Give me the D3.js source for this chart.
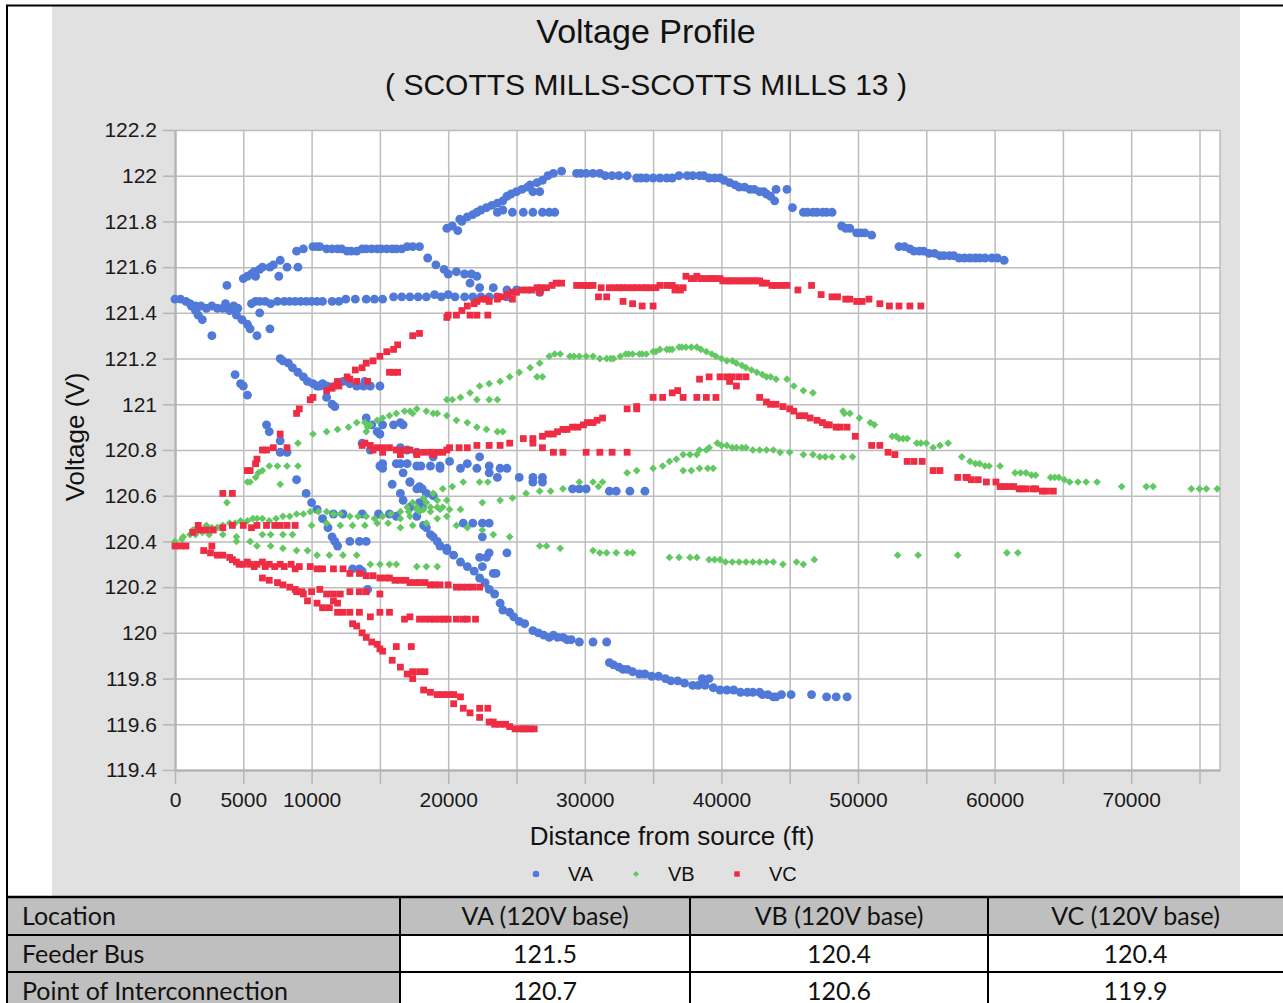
<!DOCTYPE html>
<html>
<head>
<meta charset="utf-8">
<script src="https://cdn.jsdelivr.net/npm/d3@7"></script>
<style>
  body { margin: 0; background: #fff; }
  svg { display: block; }
</style>
</head>
<body>
<div id="chart"></div>
<script>
// ---- chart data: [distance (ft), voltage (V)] ----
const vaPoints = [
  // flat band ~121.45
  [0,121.46],[400,121.46],[800,121.45],[1100,121.44],[1500,121.43],[1900,121.43],[2300,121.42],[2700,121.43],[3100,121.42],[3500,121.42],[3900,121.42],[4300,121.43],[4600,121.42],
  [5600,121.44],[5900,121.45],[6200,121.45],[6600,121.45],[7000,121.44],[7500,121.45],[8000,121.45],[8400,121.45],[8800,121.45],[9200,121.45],[9600,121.45],[10000,121.45],
  [10400,121.45],[10800,121.45],[11500,121.45],[12000,121.45],[12500,121.46],[13200,121.46],[14000,121.46],[14600,121.46],[15200,121.46],[16000,121.47],[16600,121.47],
  [17200,121.47],[17800,121.47],[18400,121.47],[19000,121.48],[19500,121.47],[20000,121.48],[20500,121.47],[21200,121.47],[21800,121.47],[22400,121.47],[23000,121.47],
  [23600,121.47],[24300,121.47],[26700,121.49],
  // early dips
  [1200,121.43],[1500,121.41],[1700,121.39],[2000,121.37],[2700,121.30],
  [3700,121.44],[4000,121.41],[4400,121.42],[4500,121.39],[4900,121.37],[5300,121.35],[5500,121.33],[6000,121.30],[6200,121.40],[6950,121.33],
  // rising to 121.69 and back down
  [3800,121.52],[5000,121.55],[5300,121.56],[5600,121.57],[5800,121.58],[5900,121.56],[6200,121.59],[6400,121.60],[6950,121.60],[7200,121.61],[7600,121.56],[7700,121.63],
  [8200,121.60],[8900,121.67],[9000,121.60],[9400,121.68],[10100,121.69],[10400,121.69],[10600,121.69],[11100,121.68],[11500,121.68],[11900,121.68],[12200,121.68],
  [12600,121.67],[12900,121.67],[13300,121.67],[13700,121.68],[14000,121.68],[14400,121.68],[14800,121.68],[15100,121.68],[15500,121.68],[15900,121.68],[16200,121.68],
  [16600,121.68],[17000,121.69],[17400,121.69],[17900,121.69],[18500,121.64],[19100,121.61],[19700,121.59],[20000,121.57],[20600,121.58],
  [21200,121.57],[21700,121.57],[22100,121.56],[21600,121.53],[22300,121.51],[23300,121.51],[24300,121.50],[25000,121.50],
  // 121.2 -> 121.08 curve
  [7700,121.20],[7900,121.19],[8300,121.18],[8600,121.16],[9000,121.14],[9400,121.12],[9700,121.10],[10100,121.09],[10400,121.08],[10600,121.08],[10800,121.09],
  [11100,121.08],[11900,121.09],[12300,121.10],[12800,121.09],[13300,121.08],[13800,121.08],[13900,121.10],[14300,121.08],[15000,121.08],
  [11100,121.03],[11500,121.00],[11700,120.99],
  [4400,121.13],[4800,121.09],[5000,121.08],[5300,121.04],
  // upper rise to 122
  [19900,121.77],[20300,121.78],[20700,121.76],[20850,121.81],[21000,121.80],[21400,121.82],[21800,121.83],[22100,121.84],[22400,121.85],[22800,121.86],[23200,121.87],
  [23600,121.88],[23600,121.84],[24000,121.89],[24000,121.85],[24300,121.91],[24600,121.92],[25000,121.93],[25400,121.94],[25800,121.95],[26000,121.96],[26200,121.93],
  [26500,121.97],[26700,121.93],[26900,121.98],[27300,122.00],[27700,122.01],[28300,122.02],
  [24700,121.84],[25500,121.84],[26200,121.84],[26900,121.84],[27400,121.84],[27800,121.84],
  // top plateau and slow decline
  [29400,122.01],[29700,122.01],[30100,122.01],[30600,122.01],[31100,122.01],[31500,122.00],[32000,122.00],[32500,122.00],[33100,122.00],[33800,121.99],[34100,121.99],
  [34500,121.99],[35000,121.99],[35500,121.99],[36000,121.99],[36400,121.99],[36900,122.00],[37500,122.00],[37900,122.00],[38400,122.00],[38700,122.00],[39100,121.99],
  [39500,121.99],[39900,121.99],[40200,121.98],[40600,121.97],[41000,121.96],[41300,121.95],[41700,121.95],[42100,121.94],[42400,121.94],[42800,121.93],[43100,121.93],
  [43300,121.92],[43600,121.91],[43900,121.89],[44000,121.94],[44800,121.94],
  [45200,121.86],[46000,121.84],[46300,121.84],[46700,121.84],[47000,121.84],[47400,121.84],[47700,121.84],[48100,121.84],[48800,121.78],[49100,121.77],[49400,121.77],
  [49900,121.75],[50200,121.75],[50500,121.75],[51000,121.74],
  [53000,121.69],[53400,121.69],[53800,121.68],[54100,121.67],[54500,121.67],[54800,121.67],[55200,121.66],[55600,121.66],[56000,121.65],[56300,121.65],[56700,121.65],
  [57000,121.65],[57400,121.64],[57800,121.64],[58200,121.64],[58600,121.64],[58900,121.64],[59300,121.64],[59800,121.64],[60200,121.64],[60700,121.63],
  // left middle group
  [6700,120.91],[6900,120.88],[7700,120.84],[7700,120.79],[8200,120.79],[8900,120.67],[9600,120.61],[10000,120.57],[10400,120.54],[10800,120.50],[11200,120.46],
  [11500,120.42],[11700,120.40],[11900,120.38],[12800,120.40],[13500,120.40],[14000,120.40],[13000,120.28],[13500,120.28],[13700,120.27],[14100,120.19],
  [11600,120.52],[12300,120.52],[13700,120.52],[14900,120.52],[15700,120.52],[16200,120.51],
  // cluster 120.95 - 120.6
  [14000,120.94],[14400,120.91],[14800,120.88],[15000,120.87],[15200,120.91],[16000,120.91],[16500,120.92],[16700,120.91],
  [13700,120.83],[14300,120.80],[15000,120.73],[15200,120.74],[16200,120.74],[17000,120.74],[17700,120.73],[18700,120.73],[19400,120.73],[15200,120.72],
  [15900,120.65],[16500,120.61],[17200,120.66],[17700,120.63],[17900,120.64],[18400,120.61],[18900,120.60],[17900,120.57],[18100,120.55],
  [16500,120.81],[17000,120.80],[17700,120.79],[18900,120.77],[20100,120.75],[21400,120.74],[22300,120.77],[23000,120.73],[23800,120.72],[24300,120.72],
  [16500,120.74],[18000,120.73],[19400,120.72],[20900,120.72],[22100,120.72],[23000,120.70],[23600,120.68],
  [16700,120.70],[17200,120.66],[18100,120.63],
  [25200,120.68],[26200,120.68],[26900,120.68],[26200,120.66],[26900,120.66],[29100,120.63],[29600,120.63],[30100,120.63],[31800,120.62],[32300,120.62],[33300,120.62],[34400,120.62],
  [21100,120.48],[21800,120.48],[22500,120.48],[23000,120.48],[22500,120.42],[23000,120.35],[24300,120.35],[22300,120.33],[22800,120.33],[23300,120.26],[23500,120.26],[22500,120.29],
  // long descending curve
  [16700,120.58],[17200,120.55],[17700,120.51],[18200,120.47],[18400,120.46],[18700,120.43],[18900,120.42],[19200,120.40],[19400,120.38],[19900,120.37],[19900,120.36],
  [20400,120.34],[20900,120.31],[21400,120.29],[21900,120.27],[22300,120.24],[22700,120.22],[23000,120.19],[23400,120.17],[23800,120.13],[24000,120.10],[24500,120.09],
  [24800,120.07],[25200,120.05],[25600,120.04],[26200,120.01],[26600,120.00],[27000,119.99],[27400,119.98],[27700,119.99],[28000,119.98],[28400,119.98],[28700,119.97],
  [29000,119.97],[29600,119.96],[30600,119.96],[31600,119.96],
  [31800,119.87],[32100,119.86],[32500,119.85],[32800,119.84],[33100,119.84],[33500,119.83],[34000,119.82],[34400,119.82],[34900,119.81],[35400,119.81],[35900,119.80],
  [36300,119.79],[36800,119.79],[37300,119.78],[37900,119.77],[38300,119.77],[38600,119.80],[38800,119.77],[39100,119.80],[39400,119.76],[39900,119.75],[40400,119.75],
  [40900,119.75],[41400,119.74],[41900,119.74],[42300,119.74],[42800,119.74],[43000,119.73],[43400,119.73],[43800,119.72],[44000,119.72],[44400,119.73],[45100,119.73],
  [46600,119.73],[47700,119.72],[48400,119.72],[49200,119.72]
];

const vbPoints = [
  // base line rising from 120.40
  [0,120.40],[500,120.41],[600,120.42],[1100,120.43],[1300,120.45],[1600,120.46],[2000,120.44],[2300,120.47],[2700,120.46],[3100,120.46],[3500,120.47],[4000,120.48],
  [4400,120.48],[4800,120.49],[5300,120.49],[5700,120.50],[6000,120.50],[6400,120.50],[6900,120.49],[7400,120.50],[7900,120.51],[8400,120.51],[8900,120.52],[9400,120.52],
  [9900,120.53],[10500,120.53],[11100,120.53],[11600,120.52],[12100,120.52],[12800,120.51],[13400,120.51],[14000,120.51],[14600,120.50],[15200,120.51],[15800,120.52],
  [16500,120.53],[17100,120.53],[17700,120.54],[18200,120.54],[18700,120.55],[19200,120.55],[19600,120.55],
  [17400,120.57],[18200,120.59],[18900,120.61],[19600,120.63],[20300,120.64],[21100,120.66],[22300,120.66],[22900,120.66],
  [22500,120.57],[23800,120.58],[24700,120.59],[25700,120.61],[26700,120.62],[27500,120.62],[28400,120.63],[29600,120.66],[30600,120.66],[31000,120.64],[31300,120.66],
  // upper hump
  [19900,121.02],[20300,121.02],[20900,121.03],[21600,121.05],[22100,121.02],[22300,121.08],[23000,121.09],[23000,121.02],[23600,121.02],[23800,121.10],[24500,121.12],
  [25200,121.14],[26000,121.16],[26500,121.12],[26700,121.18],[26900,121.12],[27400,121.21],[27800,121.22],[28200,121.22],[28900,121.21],[29200,121.21],[29600,121.21],
  [30100,121.21],[30600,121.21],[31100,121.20],[31600,121.20],[31900,121.20],[32100,121.20],[32600,121.21],[33000,121.22],[33200,121.22],[33500,121.22],[34000,121.22],
  [34200,121.22],[34500,121.22],[35000,121.23],[35200,121.23],[35500,121.24],[36000,121.24],[36200,121.24],[36400,121.24],[36900,121.25],[37100,121.25],[37400,121.25],
  [37800,121.25],[38200,121.25],[38500,121.24],[38900,121.23],[39300,121.22],[39600,121.21],[40000,121.20],[40400,121.19],[40800,121.19],[41100,121.18],[41500,121.17],
  [41800,121.16],[42200,121.15],[42600,121.14],[43000,121.13],[43300,121.12],[43600,121.12],[44000,121.11],[44800,121.11],[45300,121.08],[46000,121.06],[46700,121.05],
  [48900,120.97],[49000,120.96],[49400,120.96],[50100,120.94],[50900,120.92],[51200,120.91],[52500,120.86],[52800,120.86],[53000,120.85],[53300,120.85],[53600,120.85],
  [54300,120.83],[54600,120.83],[55000,120.83],[55500,120.81],[56000,120.82],[56600,120.83],
  [57600,120.77],[58200,120.75],[58600,120.74],[58900,120.74],[59300,120.73],[59600,120.73],[60400,120.73],[61500,120.70],[61900,120.70],[62300,120.70],[62700,120.69],
  [63000,120.69],[64100,120.68],[64400,120.68],[64700,120.68],[65100,120.67],[65500,120.66],
  [66100,120.66],[66700,120.66],[67500,120.66],[69300,120.64],[71100,120.64],[71600,120.64],[74400,120.63],[75000,120.63],[75500,120.63],[76300,120.63],
  // second wave peaking ~120.83
  [33100,120.70],[33800,120.71],[35000,120.72],[35700,120.73],[36200,120.75],[36700,120.76],[37200,120.78],[37700,120.78],[38200,120.78],[38400,120.80],[38900,120.80],
  [39100,120.81],[39700,120.83],[40000,120.82],[40400,120.82],[40800,120.81],[41100,120.81],[41500,120.81],[41800,120.81],[42300,120.80],[42800,120.80],[43300,120.80],
  [43800,120.80],[44300,120.79],[45000,120.79],[46000,120.78],[46700,120.78],[47200,120.77],[47600,120.77],[48100,120.77],[48900,120.77],[49600,120.77],
  [37200,120.71],[37800,120.71],[38400,120.72],[39000,120.72],[39400,120.72],
  // 120.45 - 120.55 cluster and flat tail
  [16500,120.50],[17200,120.51],[17900,120.53],[18700,120.53],[19400,120.54],[20100,120.54],[20900,120.54],[17000,120.55],[17700,120.55],[18400,120.57],[19200,120.58],
  [19900,120.58],[16500,120.46],[17400,120.47],[18400,120.48],[19200,120.50],[19900,120.51],[20600,120.47],[21400,120.46],[22500,120.45],[23300,120.43],[24500,120.42],
  [26700,120.38],[27200,120.38],[28200,120.37],[30600,120.36],[31100,120.35],[31600,120.35],[32300,120.35],[33100,120.35],[33500,120.35],[36200,120.33],[36900,120.33],
  [37700,120.33],[38200,120.33],[39100,120.32],[39500,120.32],[39900,120.32],[40300,120.31],[40800,120.31],[41300,120.31],[41800,120.31],[42300,120.31],[42800,120.31],
  [43300,120.31],[43800,120.31],[44500,120.30],[45500,120.31],[46000,120.30],
  [46800,120.32],[52900,120.34],[54400,120.34],[57300,120.34],[60900,120.35],[61700,120.35],
  // lower left rows
  [4500,120.40],[5500,120.40],[6000,120.38],[7000,120.38],[7900,120.37],[8900,120.36],[9700,120.36],[10400,120.34],[11300,120.34],[12300,120.34],[13300,120.34],
  [14300,120.30],[15000,120.30],[15700,120.30],[16200,120.30],[17700,120.29],[18400,120.29],[19200,120.29],
  [1500,120.43],[2500,120.43],[3500,120.43],[4500,120.42],[6400,120.43],[7000,120.43],[7900,120.43],[8600,120.43],
  [10000,120.47],[11100,120.48],[12100,120.47],[13000,120.47],[13900,120.47],[14800,120.48],[15600,120.48],
  // upper left rise
  [3800,120.57],[5300,120.66],[5500,120.66],[5900,120.68],[6100,120.70],[6400,120.71],[6900,120.73],[7500,120.73],[7700,120.65],[8200,120.73],[9000,120.73],[9000,120.83],
  [10100,120.87],[11100,120.88],[11900,120.89],[12700,120.90],[13300,120.92],[13900,120.92],[14000,120.88],[14100,120.90],[14300,120.91],[14800,120.93],[15200,120.94],
  [15700,120.95],[16200,120.96],[16800,120.97],[17200,120.97],[17400,120.96],[17700,120.98],[18400,120.97],[18900,120.96],[19200,120.96],[19900,120.95],[20600,120.93],
  [21400,120.92],[22100,120.90],[22800,120.89],[23600,120.88],[24000,120.88]
];

const vcPoints = [
  // lower falling band
  [0,120.38],[400,120.38],[800,120.38],[2100,120.36],[2600,120.35],[2700,120.38],[3100,120.34],[3500,120.34],[4000,120.33],[4200,120.32],[4500,120.31],[4700,120.30],
  [5000,120.30],[5300,120.31],[5500,120.30],[5800,120.29],[6000,120.30],[6400,120.31],[6600,120.29],[6900,120.30],[7300,120.29],[7700,120.30],[8000,120.29],[8500,120.30],
  [8800,120.28],[9100,120.29],[9900,120.29],[10400,120.28],[10800,120.28],[11600,120.28],[12300,120.28],[12800,120.26],[13500,120.26],[14000,120.25],[14500,120.25],
  [15000,120.24],[15400,120.24],[15700,120.24],[16100,120.23],[16500,120.23],[16900,120.23],[17200,120.22],[17600,120.22],[17900,120.22],[18300,120.22],[18700,120.21],
  [19000,120.21],[19400,120.21],[20000,120.21],[20600,120.20],[21000,120.20],[21400,120.20],[21800,120.20],[22300,120.20],
  // lower branch ~120.06
  [6400,120.24],[6900,120.23],[7500,120.22],[7900,120.21],[8400,120.20],[8900,120.18],[9400,120.17],[9700,120.14],[10400,120.13],[10800,120.11],[11300,120.11],
  [11900,120.09],[12300,120.09],[12800,120.09],[13500,120.09],[14300,120.07],[15000,120.09],[15700,120.09],[16800,120.06],[17200,120.07],[17900,120.06],[18300,120.06],
  [18700,120.06],[19000,120.06],[19400,120.06],[19700,120.06],[20000,120.06],[20600,120.06],[21100,120.06],[21400,120.06],[22000,120.06],
  [8800,120.19],[9300,120.18],[10000,120.18],[10600,120.19],[11100,120.17],[11600,120.17],[12100,120.17],[12800,120.18],[13500,120.18],[14000,120.18],[15000,120.17],
  [11600,120.14],[11900,120.13],
  // steep drop to 119.58
  [13000,120.04],[13300,120.03],[13700,120.00],[14000,119.98],[14400,119.96],[14800,119.95],[15000,119.93],[15200,119.92],[16200,119.94],[17300,119.94],
  [15900,119.88],[16500,119.85],[17000,119.82],[17400,119.80],[17400,119.83],[17900,119.83],[18300,119.83],
  [18200,119.75],[18700,119.74],[19200,119.73],[19600,119.73],[20000,119.73],[20400,119.73],[20900,119.72],[20400,119.69],[21100,119.67],[21600,119.65],[22300,119.67],
  [22900,119.67],[22300,119.63],[23000,119.61],[23300,119.61],[23400,119.60],[23800,119.60],[24200,119.60],[24500,119.59],[24900,119.58],[25200,119.58],[25500,119.58],
  [25700,119.58],[26000,119.58],[26300,119.58],
  // rising from 120.61 up to 121.53
  [3500,120.61],[4200,120.61],[5300,120.71],[5500,120.71],[5900,120.74],[6000,120.76],[6400,120.80],[6700,120.80],[7200,120.81],[8200,120.81],[7700,120.87],
  [8900,120.96],[9100,120.98],[9900,121.02],[10100,121.03],[11100,121.06],[11500,121.07],[11600,121.08],[11900,121.10],[12000,121.08],[12600,121.12],[12800,121.11],
  [13200,121.15],[13300,121.10],[13700,121.16],[14000,121.18],[14100,121.10],[14500,121.19],[15000,121.21],[15500,121.23],[15700,121.14],[16000,121.24],[16000,121.14],
  [16300,121.26],[16300,121.14],[17400,121.30],[17900,121.31],
  [19900,121.38],[20000,121.39],[20600,121.39],[21000,121.41],[21400,121.43],[21600,121.39],[21900,121.44],[22100,121.45],[22100,121.39],[22500,121.46],[22800,121.46],
  [22900,121.39],[23000,121.45],[23600,121.47],[23600,121.46],[24000,121.47],[24300,121.48],[24700,121.49],[24700,121.46],[25000,121.49],[25400,121.50],[25800,121.50],
  [26100,121.50],[26500,121.51],[26700,121.49],[26800,121.51],[27200,121.51],[27600,121.52],[27900,121.53],[28300,121.53],
  // plateau ~121.52 and decline
  [29400,121.52],[29800,121.52],[30100,121.52],[30300,121.52],[30600,121.52],[31200,121.51],[31800,121.51],[32200,121.51],[32500,121.51],[32800,121.51],[33100,121.51],
  [33500,121.51],[33800,121.51],[34200,121.51],[34500,121.51],[34800,121.51],[35200,121.51],[35500,121.52],
  [36000,121.52],[36400,121.52],[36600,121.50],[36700,121.51],[37000,121.50],[37200,121.51],[37400,121.56],[37800,121.55],[38000,121.55],[38200,121.56],[38500,121.55],
  [38700,121.55],[39100,121.55],[39300,121.55],[39500,121.55],[39900,121.55],[40100,121.54],[40400,121.54],[40600,121.54],[40800,121.54],[41100,121.54],[41300,121.54],
  [41600,121.54],[41800,121.54],[42000,121.54],[42300,121.54],[42500,121.54],[42800,121.54],[43000,121.53],[43300,121.53],[43700,121.52],[44000,121.52],[44400,121.52],
  [44800,121.52],[45600,121.50],[46600,121.52],[47300,121.48],[48100,121.47],[48500,121.47],[49100,121.46],[49400,121.46],[49900,121.45],[50300,121.45],[50800,121.46],
  [51600,121.44],[52300,121.43],[53000,121.43],[53800,121.43],[54600,121.43],
  [31000,121.47],[31600,121.47],[32800,121.45],[33500,121.44],[34200,121.43],[35000,121.43],
  // 120.8 band rising to 121.12 then falling to 120.62
  [13700,120.82],[13900,120.83],[14300,120.82],[14500,120.80],[14800,120.81],[15200,120.81],[15200,120.79],[15700,120.81],[16200,120.80],[16500,120.78],[16700,120.80],
  [17200,120.80],[17700,120.79],[17700,120.78],[18200,120.79],[18700,120.79],[18900,120.78],[19200,120.79],[19600,120.79],[19900,120.80],[20100,120.81],[20800,120.81],
  [21400,120.81],[22100,120.82],[23000,120.82],[23800,120.82],[24500,120.83],[25500,120.85],[26200,120.85],[26200,120.83],[26900,120.86],[26900,120.81],[27300,120.87],
  [27700,120.87],[27700,120.79],[28000,120.88],[28400,120.89],[28400,120.79],[28700,120.89],[29100,120.90],[29500,120.90],[29900,120.91],[30100,120.79],[30200,120.92],
  [30600,120.92],[30900,120.93],[31100,120.79],[31300,120.94],[32000,120.79],[33100,120.98],
  [33100,120.79],[33800,120.98],[33800,120.99],[35000,121.03],[35700,121.03],[36400,121.05],[36800,121.06],[37200,121.03],[38200,121.03],[38400,121.11],[38900,121.03],
  [39100,121.12],[39600,121.03],[39900,121.12],[40400,121.12],[40600,121.10],[40800,121.12],[41100,121.08],[41300,121.12],[41800,121.12],
  [42800,121.03],[43300,121.01],[43600,121.00],[44000,121.00],[44500,120.99],[45000,120.98],[45300,120.97],[45700,120.95],[46100,120.95],[46500,120.94],[47000,120.93],
  [47400,120.92],[47700,120.91],[47900,120.91],[48400,120.90],[48700,120.90],
  [49200,120.90],[49800,120.86],[51000,120.82],[51600,120.82],[52200,120.79],[52700,120.78],[53600,120.75],[54100,120.75],[54700,120.75],[55500,120.71],[56000,120.71],
  [57300,120.68],[57900,120.68],[58000,120.68],[58300,120.67],[58800,120.67],[59400,120.66],[60100,120.66],[60400,120.64],[60700,120.64],[61100,120.64],[61400,120.64],
  [61800,120.63],[62000,120.63],[62300,120.63],[62800,120.63],[63000,120.63],[63500,120.62],[63800,120.62],[64300,120.62],
  // left 120.45 band
  [1300,120.44],[1700,120.47],[1800,120.45],[2300,120.45],[2800,120.45],[3500,120.46],[4200,120.47],[5000,120.47],[5600,120.46],[6000,120.47],[6700,120.47],[7300,120.47],
  [7700,120.47],[8200,120.47],[8800,120.47]
];

const seriesNames = ["VA", "VB", "VC"];
const seriesColors = ["#5079d8", "#62c862", "#ee2d45"];
const xTicks = [0,5000,10000,15000,20000,25000,30000,35000,40000,45000,50000,55000,60000,65000,70000,75000];
const xTickLabels = [0,5000,10000,20000,30000,40000,50000,60000,70000];
const yTicks = [119.4,119.6,119.8,120,120.2,120.4,120.6,120.8,121,121.2,121.4,121.6,121.8,122,122.2];

const tableHeader = ["Location", "VA (120V base)", "VB (120V base)", "VC (120V base)"];
const tableRows = [
  ["Feeder Bus", "121.5", "120.4", "120.4"],
  ["Point of Interconnection", "120.7", "120.6", "119.9"]
];

// ---- layout ----
const W = 1283, H = 1003;
const plot = {left: 175, top: 130, right: 1220, bottom: 770};
const font = "'Liberation Sans', Arial, sans-serif";

const svg = d3.select("#chart").append("svg")
    .attr("width", W)
    .attr("height", H);

svg.append("rect").attr("width", W).attr("height", H).attr("fill", "#fff");

// gray chart background
svg.append("rect")
    .attr("x", 52).attr("y", 6)
    .attr("width", 1188).attr("height", 891)
    .attr("fill", "#e1e1e1");

// page frame lines
svg.append("line").attr("x1", 6).attr("x2", W).attr("y1", 5.5).attr("y2", 5.5)
    .attr("stroke", "#000").attr("stroke-width", 2);
svg.append("line").attr("x1", 7).attr("x2", 7).attr("y1", 5).attr("y2", H)
    .attr("stroke", "#000").attr("stroke-width", 2);

const x = d3.scaleLinear().domain([0, 76500]).range([plot.left, plot.right]);
const y = d3.scaleLinear().domain([119.4, 122.2]).range([plot.bottom, plot.top]);

// plot area
svg.append("rect")
    .attr("x", plot.left).attr("y", plot.top)
    .attr("width", plot.right - plot.left).attr("height", plot.bottom - plot.top)
    .attr("fill", "#fff");

// gridlines
const grid = svg.append("g").attr("class", "grid");
grid.append("g")
    .attr("transform", `translate(0,${plot.bottom})`)
    .call(d3.axisBottom(x).tickValues(xTicks.slice(1)).tickSize(-(plot.bottom - plot.top)).tickFormat(""));
grid.append("g")
    .attr("transform", `translate(${plot.left},0)`)
    .call(d3.axisLeft(y).tickValues(yTicks.slice(1)).tickSize(-(plot.right - plot.left)).tickFormat(""));
grid.selectAll(".domain").remove();
grid.selectAll("line").attr("stroke", "#bdbdbd").attr("stroke-width", 1.5);

// right border of plot
svg.append("line")
    .attr("x1", plot.right).attr("x2", plot.right)
    .attr("y1", plot.top).attr("y2", plot.bottom)
    .attr("stroke", "#bdbdbd").attr("stroke-width", 1.5);

// axes
const xAxis = svg.append("g")
    .attr("transform", `translate(0,${plot.bottom})`)
    .call(d3.axisBottom(x).tickValues(xTicks).tickSize(14).tickSizeOuter(0)
        .tickFormat(d => xTickLabels.includes(d) ? String(d) : ""));
const yAxis = svg.append("g")
    .attr("transform", `translate(${plot.left},0)`)
    .call(d3.axisLeft(y).tickValues(yTicks).tickSize(12).tickSizeOuter(0)
        .tickFormat(d => String(+d.toFixed(1))));

[xAxis, yAxis].forEach(a => {
    a.select(".domain").attr("stroke", "#b5b5b5").attr("stroke-width", 2.5);
    a.selectAll(".tick line").attr("stroke", "#b5b5b5").attr("stroke-width", 1.5);
    a.selectAll("text").attr("font-family", font).attr("font-size", 21).attr("fill", "#1a1a1a");
});
xAxis.selectAll("text").attr("dy", "0.71em").attr("y", 22);
yAxis.selectAll("text").attr("x", -18);

// titles
svg.append("text")
    .attr("x", 646).attr("y", 43)
    .attr("text-anchor", "middle")
    .attr("font-family", font).attr("font-size", 34)
    .attr("fill", "#111")
    .text("Voltage Profile");
svg.append("text")
    .attr("x", 646).attr("y", 95)
    .attr("text-anchor", "middle")
    .attr("font-family", font).attr("font-size", 30)
    .attr("fill", "#111")
    .text("( SCOTTS MILLS-SCOTTS MILLS 13 )");
svg.append("text")
    .attr("transform", "translate(84,437) rotate(-90)")
    .attr("text-anchor", "middle")
    .attr("font-family", font).attr("font-size", 26)
    .attr("fill", "#111")
    .text("Voltage (V)");
svg.append("text")
    .attr("x", 672).attr("y", 845)
    .attr("text-anchor", "middle")
    .attr("font-family", font).attr("font-size", 26)
    .attr("fill", "#111")
    .text("Distance from source (ft)");

// markers
const symbols = [
    {type: d3.symbolCircle, size: 62, rotate: 0},
    {type: d3.symbolSquare, size: 30, rotate: 45},
    {type: d3.symbolSquare, size: 46, rotate: 0}
];
const allSeries = [vaPoints, vbPoints, vcPoints];

allSeries.forEach((pts, i) => {
    const path = d3.symbol().type(symbols[i].type).size(symbols[i].size)();
    svg.append("g")
        .selectAll("path")
        .data(pts)
        .join("path")
        .attr("d", path)
        .attr("transform", d => `translate(${x(d[0])},${y(d[1])}) rotate(${symbols[i].rotate})`)
        .attr("fill", seriesColors[i]);
});

// legend
const legendX = [536, 636, 737];
const legendSizes = [34, 18, 30];
const legend = svg.append("g");
seriesNames.forEach((name, i) => {
    const path = d3.symbol().type(symbols[i].type).size(legendSizes[i])();
    legend.append("path")
        .attr("d", path)
        .attr("transform", `translate(${legendX[i]},874) rotate(${symbols[i].rotate})`)
        .attr("fill", seriesColors[i]);
    legend.append("text")
        .attr("x", legendX[i] + 32).attr("y", 881)
        .attr("font-family", font).attr("font-size", 20)
        .attr("fill", "#111")
        .text(name);
});

// table below the chart
const colX = [7, 400, 690, 988, W];
const rowY = [897, 935, 972, 1010];
const tFont = "Lato, 'Noto Sans', sans-serif";
const table = svg.append("g");
const rows = [tableHeader].concat(tableRows);
rows.forEach((row, r) => {
    row.forEach((cell, c) => {
        const gray = r === 0 || c === 0;
        table.append("rect")
            .attr("x", colX[c]).attr("y", rowY[r])
            .attr("width", colX[c + 1] - colX[c]).attr("height", rowY[r + 1] - rowY[r])
            .attr("fill", gray ? "#bfbfbf" : "#fff");
        table.append("text")
            .attr("x", c === 0 ? 22 : (colX[c] + colX[c + 1]) / 2)
            .attr("y", rowY[r] + 28)
            .attr("text-anchor", c === 0 ? "start" : "middle")
            .attr("font-family", tFont).attr("font-size", 25)
            .attr("fill", "#111")
            .text(cell);
    });
});
rowY.slice(0, 3).forEach(yy => {
    table.append("line").attr("x1", 6).attr("x2", W).attr("y1", yy).attr("y2", yy)
        .attr("stroke", "#000").attr("stroke-width", yy === 897 ? 2.5 : 2);
});
colX.slice(0, 4).forEach(xx => {
    table.append("line").attr("x1", xx).attr("x2", xx).attr("y1", 897).attr("y2", H)
        .attr("stroke", "#000").attr("stroke-width", 2);
});
</script>
</body>
</html>
